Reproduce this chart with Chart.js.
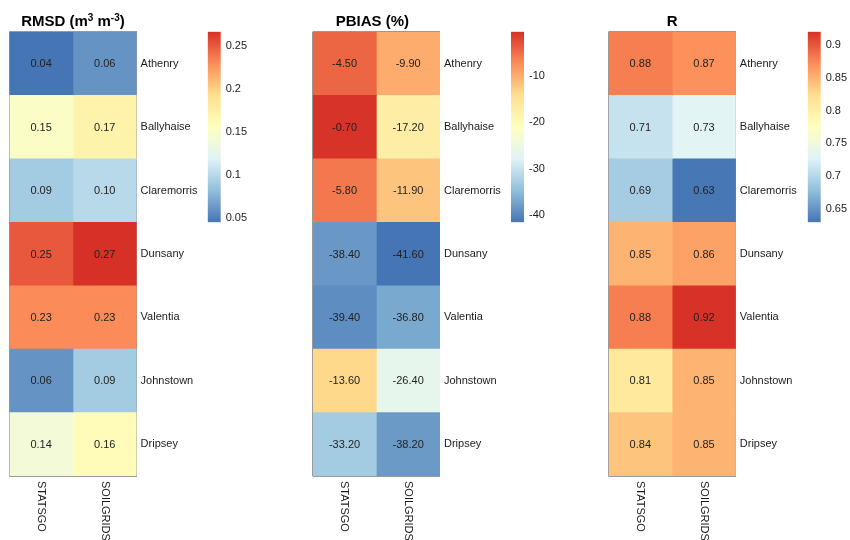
<!DOCTYPE html>
<html>
<head>
<meta charset="utf-8">
<script src="https://cdn.jsdelivr.net/npm/chart.js@4.4.1/dist/chart.umd.min.js"></script>
<style>
  html, body { margin: 0; padding: 0; background: #fff; }
  #wrap { position: relative; width: 850px; height: 540px; overflow: hidden; background: #fff; }
  #wrap canvas { position: absolute; top: 0; }
</style>
</head>
<body>
<div id="wrap"></div>
<script>
// Stations (rows) and soil data sources (columns)
const stations = ['Athenry', 'Ballyhaise', 'Claremorris', 'Dunsany', 'Valentia', 'Johnstown', 'Dripsey'];
const sources = ['STATSGO', 'SOILGRIDS'];

// RMSD (m3 m-3)
const rmsdStatsgo   = [0.04, 0.15, 0.09, 0.25, 0.23, 0.06, 0.14];
const rmsdSoilgrids = [0.06, 0.17, 0.10, 0.27, 0.23, 0.09, 0.16];
const rmsdLimits = [0.0447, 0.266];
const rmsdTicks = [0.05, 0.1, 0.15, 0.2, 0.25];

// PBIAS (%)
const pbiasStatsgo   = [-4.50, -0.70, -5.80, -38.40, -39.40, -13.60, -33.20];
const pbiasSoilgrids = [-9.90, -17.20, -11.90, -41.60, -36.80, -26.40, -38.20];
const pbiasLimits = [-41.6, -0.5];
const pbiasTicks = [-40, -30, -20, -10];

// Correlation coefficient R
const rStatsgo   = [0.88, 0.71, 0.69, 0.85, 0.88, 0.81, 0.84];
const rSoilgrids = [0.87, 0.73, 0.63, 0.86, 0.92, 0.85, 0.85];
const rLimits = [0.629, 0.921];
const rTicks = [0.65, 0.7, 0.75, 0.8, 0.85, 0.9];

// Diverging blue-yellow-red ramp
const palette = ['#4575B4', '#91BFDB', '#E0F3F8', '#FFFFBF', '#FEE090', '#FC8D59', '#D73027'];

Chart.defaults.font.family = "'Liberation Sans', Arial, Helvetica, sans-serif";
Chart.defaults.font.size = 11;
Chart.defaults.color = '#1a1a1a';

const paletteRgb = palette.map(h => [1, 3, 5].map(i => parseInt(h.slice(i, i + 2), 16)));
function colorAt(t) {
  t = Math.max(0, Math.min(1, t));
  const p = t * (paletteRgb.length - 1);
  const i = Math.min(Math.floor(p), paletteRgb.length - 2);
  const f = p - i;
  const a = paletteRgb[i], b = paletteRgb[i + 1];
  return 'rgb(' + a.map((v, k) => Math.round(v + (b[k] - v) * f)).join(',') + ')';
}

const wrap = document.getElementById('wrap');
function addCanvas(left, width, height) {
  const c = document.createElement('canvas');
  c.width = width; c.height = height;
  c.style.left = left + 'px';
  c.style.width = width + 'px';
  c.style.height = height + 'px';
  wrap.appendChild(c);
  return c;
}

// Cell numbers, panel title and rotated column names
const heatDecor = {
  id: 'heatDecor',
  afterDraw(chart, args, opts) {
    const { ctx, chartArea } = chart;
    const xs = chart.scales.x, ys = chart.scales.y;
    ctx.save();
    // cell values
    ctx.font = "11px 'Liberation Sans', Arial, sans-serif";
    ctx.fillStyle = '#222';
    ctx.textAlign = 'center';
    ctx.textBaseline = 'middle';
    opts.columns.forEach((col, c) => {
      col.forEach((v, i) => {
        ctx.fillText(v.toFixed(opts.digits), xs.getPixelForValue(c + 0.5), ys.getPixelForValue(i) + 0.5);
      });
    });
    // column names, rotated to read downwards
    ctx.fillStyle = '#1a1a1a';
    ctx.textAlign = 'left';
    opts.colNames.forEach((name, c) => {
      ctx.save();
      ctx.translate(xs.getPixelForValue(c + 0.5), chartArea.bottom + 5);
      ctx.rotate(Math.PI / 2);
      ctx.fillText(name, 0, 0);
      ctx.restore();
    });
    // title with superscripts
    const big = "bold 15px 'Liberation Sans', Arial, sans-serif";
    const small = "bold 10px 'Liberation Sans', Arial, sans-serif";
    ctx.fillStyle = '#000';
    ctx.textBaseline = 'alphabetic';
    let total = 0;
    opts.title.forEach(s => { ctx.font = s.sup ? small : big; total += ctx.measureText(s.t).width; });
    let x = (chartArea.left + chartArea.right) / 2 - total / 2 + (opts.titleShift || 0);
    const base = 26;
    opts.title.forEach(s => {
      ctx.font = s.sup ? small : big;
      ctx.fillText(s.t, x, s.sup ? base - 5 : base);
      x += ctx.measureText(s.t).width;
    });
    ctx.restore();
  }
};

function heatmap(left, columns, limits, digits, title, titleShift) {
  const areaW = 127.3, canvasW = 200;
  const x0 = Math.floor(left);
  const padL = left - x0;
  const c = addCanvas(x0, canvasW, 540);
  new Chart(c, {
    type: 'bar',
    data: {
      labels: stations,
      datasets: sources.map((name, k) => ({
        label: name,
        data: stations.map(() => [k, k + 1]),
        backgroundColor: columns[k].map(v => colorAt((v - limits[0]) / (limits[1] - limits[0]))),
        borderWidth: 0,
        grouped: false,
        barPercentage: 1,
        categoryPercentage: 1
      }))
    },
    options: {
      indexAxis: 'y',
      responsive: false,
      animation: false,
      events: [],
      layout: { padding: { left: padL, top: 32, right: 0, bottom: 64 } },
      plugins: {
        legend: { display: false },
        tooltip: { enabled: false },
        heatDecor: { columns, digits, title, titleShift, colNames: sources }
      },
      scales: {
        x: {
          type: 'linear', min: 0, max: 2, z: 1,
          ticks: { display: false, stepSize: 1 },
          grid: { color: '#999', lineWidth: 1, drawTicks: false },
          border: { display: false },
          afterFit: s => { s.height = 0; }
        },
        y: {
          type: 'category', position: 'right', offset: true, z: 1,
          grid: { offset: true, color: '#999', lineWidth: 1, drawTicks: false },
          border: { display: false },
          ticks: { padding: 4, font: { size: 11 }, color: '#1a1a1a' },
          afterFit: s => { s.width = canvasW - padL - areaW; }
        }
      }
    },
    plugins: [heatDecor]
  });
}

function colorbar(left, limits, ticks) {
  const canvasW = 60, canvasH = 240, barW = 13;
  const x0 = Math.floor(left);
  const padL = left - x0;
  const c = addCanvas(x0, canvasW, canvasH);
  new Chart(c, {
    type: 'bar',
    data: {
      labels: [''],
      datasets: [{
        data: [limits.slice()],
        backgroundColor: ctx => {
          const area = ctx.chart.chartArea;
          if (!area) return palette[0];
          const g = ctx.chart.ctx.createLinearGradient(0, area.bottom, 0, area.top);
          palette.forEach((col, i) => g.addColorStop(i / (palette.length - 1), col));
          return g;
        },
        borderWidth: 0,
        barPercentage: 1,
        categoryPercentage: 1
      }]
    },
    options: {
      responsive: false,
      animation: false,
      events: [],
      layout: { padding: { left: padL, top: 31.7, right: 0, bottom: canvasH - 222.3 } },
      plugins: { legend: { display: false }, tooltip: { enabled: false } },
      scales: {
        x: { display: false },
        y: {
          position: 'right', min: limits[0], max: limits[1],
          grid: { display: false, drawTicks: false },
          border: { display: false },
          ticks: { padding: 5, font: { size: 11 }, color: '#1a1a1a', callback: v => String(v) },
          afterBuildTicks: s => { s.ticks = ticks.map(v => ({ value: v })); },
          afterFit: s => { s.width = canvasW - padL - barW; }
        }
      }
    }
  });
}

heatmap(9.3, [rmsdStatsgo, rmsdSoilgrids], rmsdLimits, 2,
  [{ t: 'RMSD (m' }, { t: '3', sup: true }, { t: ' m' }, { t: '-3', sup: true }, { t: ')' }], 0);
heatmap(312.7, [pbiasStatsgo, pbiasSoilgrids], pbiasLimits, 2, [{ t: 'PBIAS (%)' }], -4);
heatmap(608.5, [rStatsgo, rSoilgrids], rLimits, 2, [{ t: 'R' }], 0);

colorbar(207.7, rmsdLimits, rmsdTicks);
colorbar(511, pbiasLimits, pbiasTicks);
colorbar(807.7, rLimits, rTicks);
</script>
</body>
</html>
